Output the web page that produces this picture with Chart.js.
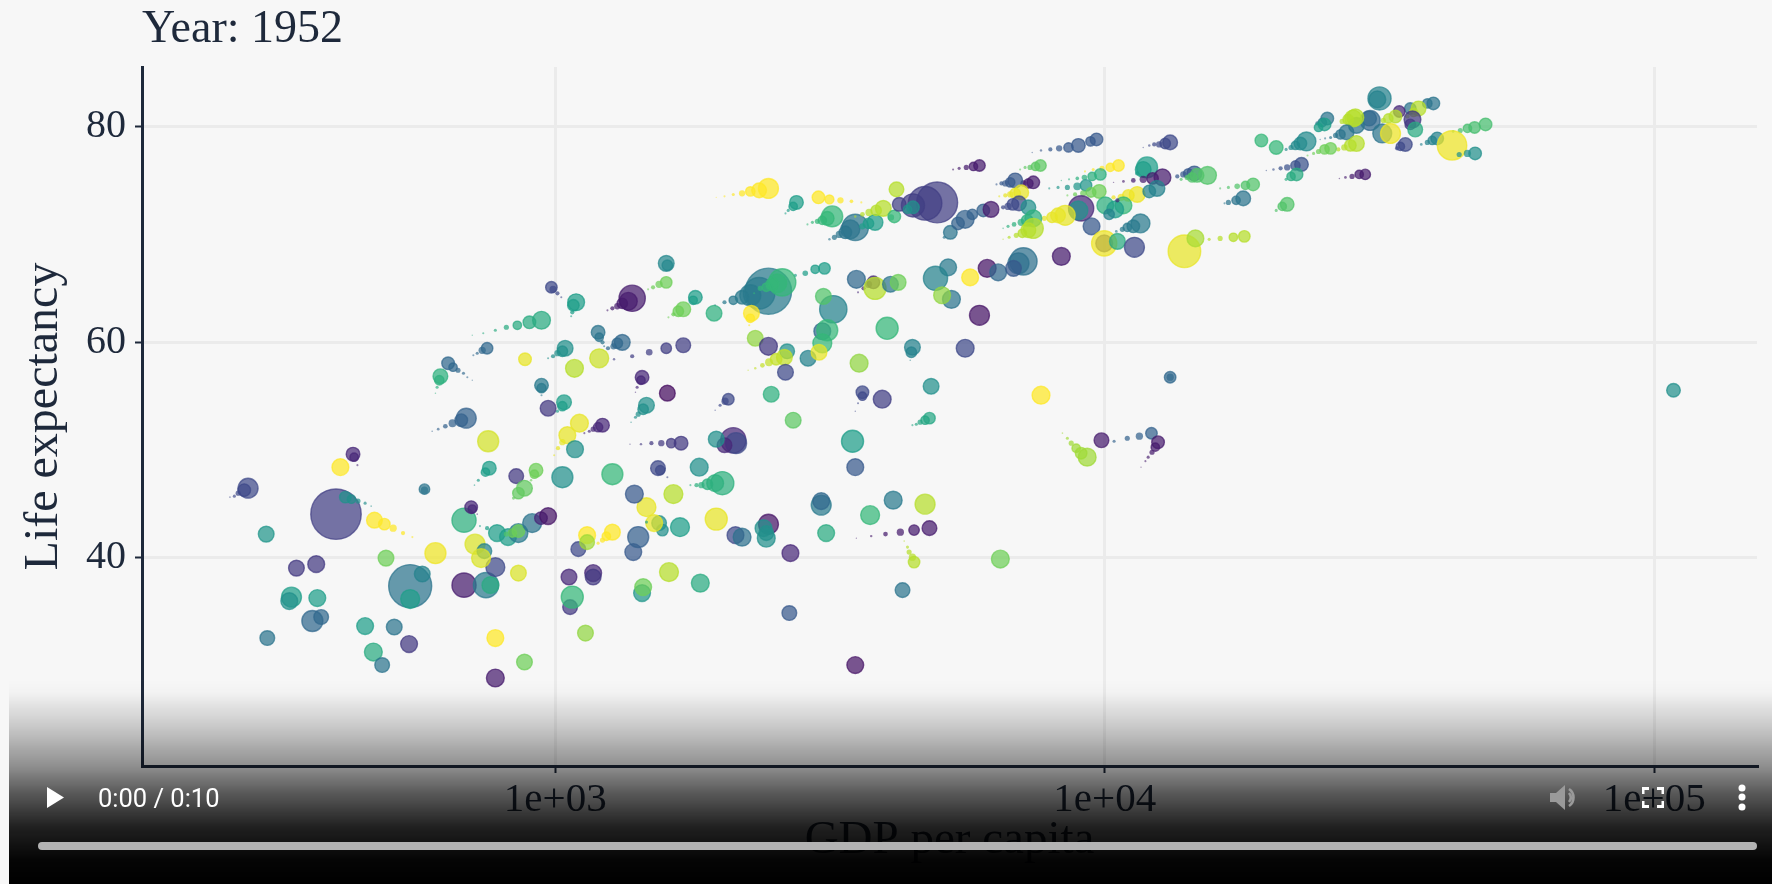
<!DOCTYPE html>
<html><head><meta charset="utf-8">
<script src="https://cdn.jsdelivr.net/npm/chart.js@4"></script>
<style>
html,body{margin:0;padding:0;background:#f7f7f7;width:1772px;height:884px;overflow:hidden}
canvas{position:absolute;left:0;top:0}
#shade{position:absolute;left:9px;right:0;top:680px;bottom:0;background:linear-gradient(to bottom,rgba(0,0,0,0) 0px,rgba(0,0,0,.02) 13px,rgba(0,0,0,.19) 47px,rgba(0,0,0,.42) 86px,rgba(0,0,0,.64) 113px,rgba(0,0,0,.87) 147px,rgba(0,0,0,.98) 180px,#000 204px)}
#play{position:absolute;left:47px;top:787px;width:17px;height:21px;background:#fff;clip-path:polygon(0 0,100% 50%,0 100%)}
#time{position:absolute;left:98px;top:783px;font:25.5px Roboto,sans-serif;color:#fff;line-height:30px;white-space:nowrap}
#bar{position:absolute;left:38px;top:842px;width:1719px;height:8px;border-radius:4px;background:#b3b3b3}
svg.ctl{position:absolute}
</style></head><body>
<canvas id="c" width="1772" height="884"></canvas>
<div id="shade"></div>
<div id="play"></div>
<div id="time">0:00 / 0:10</div>
<div id="bar"></div>
<svg class="ctl" style="left:1550px;top:784px" width="28" height="27" viewBox="0 0 28 27"><path d="M0 9h6l9-8v25l-9-8H0z" fill="#9a9a9a"/><path d="M19 5c6 4 6 13 0 17M19 9c2.500 3 2.500 6 0 9" stroke="#9a9a9a" stroke-width="2.600" fill="none"/></svg>
<svg class="ctl" style="left:1642px;top:787px" width="22" height="21" viewBox="0 0 22 21"><path d="M1 7V1.500h6M15 1.500h6V7M21 14v5.500h-6M7 19.500H1V14" stroke="#fff" stroke-width="3" fill="none"/></svg>
<svg class="ctl" style="left:1736px;top:782px" width="12" height="30" viewBox="0 0 12 30"><circle cx="6" cy="6" r="3.500" fill="#fff"/><circle cx="6" cy="15" r="3.500" fill="#fff"/><circle cx="6" cy="25" r="3.500" fill="#fff"/></svg>
<script>
const yearLabel = "Year: 1952";
const xTitle = "GDP per capita";
const yTitle = "Life expectancy";
const xTicks = [1000, 10000, 100000];
const yTicks = [40, 60, 80];

// log10 of GDP per capita, one entry per mark (head of a country's bubble or a step of its trail)
const logGdp = [
2.993,2.996,3.004,3.011,
3.038,3.033,3.031,3.029,
3.140,3.133,3.122,3.113,3.104,3.095,
3.202,3.204,
3.202,3.189,3.178,3.169,
3.255,3.251,
3.233,3.224,3.215,3.206,
2.975,2.953,2.931,2.911,2.891,2.869,2.849,
3.078,3.080,3.086,3.089,
3.122,3.113,3.106,3.096,
2.876,2.867,2.858,2.851,
3.018,3.013,3.004,2.996,2.987,
3.080,2.945,3.035,
2.805,2.814,2.823,2.833,2.840,2.849,
2.791,2.789,2.785,2.782,
3.233,3.202,3.171,3.140,3.107,
3.158,3.156,3.149,3.146,
3.204,
2.975,2.975,2.975,
2.987,
3.016,3.013,3.004,
3.166,3.160,3.151,3.146,3.138,
3.086,3.078,3.069,3.062,3.053,
3.044,3.022,3.013,3.005,2.998,
2.838,2.829,2.813,2.800,2.787,2.776,
2.878,
2.441,2.434,2.423,2.416,2.408,
2.632,2.634,2.640,
2.609,
2.762,2.762,
2.601,
2.618,2.629,2.641,2.654,2.665,
2.671,2.689,2.705,2.723,2.740,
2.782,2.474,2.692,2.529,2.565,2.736,2.758,2.736,2.834,2.874,2.882,2.891,2.933,
2.520,2.516,2.567,2.558,2.574,2.476,2.654,2.707,2.734,2.669,2.685,2.891,2.944,2.891,3.055,
3.069,3.069,3.025,3.027,3.031,3.142,3.151,3.042,3.058,3.058,
3.104,3.093,3.086,3.078,
3.166,3.189,3.195,3.180,3.166,3.227,3.207,3.158,3.160,3.264,3.426,3.293,3.328,3.340,
3.388,3.379,3.384,3.384,3.428,3.215,3.144,3.104,3.013,2.929,
2.965,2.962,2.956,
2.944,2.933,2.924,
2.880,2.873,2.860,2.853,
2.834,
2.847,2.849,2.858,
2.863,2.876,2.894,
2.914,2.933,2.933,2.922,2.911,2.958,2.974,2.987,2.854,2.871,2.865,3.262,
3.187,3.191,3.204,
3.304,3.291,3.277,3.266,3.257,3.246,
3.324,3.329,3.308,3.293,3.393,3.433,
3.315,3.309,3.300,3.291,
3.229,3.211,3.193,3.175,3.156,3.136,
3.036,
3.490,3.473,3.455,3.437,
3.388,3.371,3.355,3.340,3.324,3.308,3.291,
3.413,3.404,3.395,3.384,3.373,3.362,
3.548,
3.579,3.570,3.561,3.551,
3.582,3.610,3.624,3.715,3.692,3.755,3.786,3.806,3.772,3.721,3.704,3.604,3.506,3.488,3.486,3.495,3.486,3.460,3.480,3.364,3.388,3.422,
3.417,3.402,3.389,3.377,3.364,3.351,
3.419,3.289,
3.357,3.355,3.353,
3.650,3.648,3.646,
3.746,3.553,3.684,
3.559,3.559,3.551,3.546,
3.595,
3.681,3.673,3.664,3.657,3.650,
3.541,3.546,3.484,3.484,3.615,3.573,3.673,3.493,
3.681,3.653,3.628,3.601,3.575,3.548,
3.653,3.650,3.644,3.641,3.635,
3.810,3.632,3.546,3.884,
4.119,4.119,
3.968,3.957,3.948,3.939,3.932,3.923,
3.994,
4.085,4.063,4.041,4.017,
4.097,4.092,4.086,4.079,4.074,4.066,
3.388,3.371,3.355,3.340,3.324,3.308,3.293,
3.439,3.433,3.424,3.419,
3.479,3.499,3.519,3.539,3.557,
3.504,3.495,3.486,3.477,3.468,3.459,
3.621,
3.546,3.537,3.528,3.517,3.508,3.499,
3.582,3.570,3.559,
3.597,3.584,3.571,3.559,3.546,
3.617,3.611,
3.695,3.673,3.651,3.626,
3.651,3.641,
3.719,3.708,
3.985,3.974,3.952,3.934,3.917,3.901,3.884,3.868,
4.119,4.110,4.099,4.090,4.081,4.070,
3.772,3.761,3.748,3.735,3.724,
3.883,3.874,3.864,3.855,3.846,
4.025,4.010,3.995,3.979,3.964,
4.077,4.070,4.059,
4.105,4.087,4.070,4.052,4.034,4.016,
4.163,4.152,4.143,4.132,
4.187,4.168,4.159,4.150,4.139,
3.870,3.861,3.852,
3.837,3.828,3.819,3.812,3.803,
3.992,3.977,3.963,3.950,3.935,3.921,
3.966,3.950,3.932,3.915,3.899,
3.990,3.975,3.961,3.946,3.932,
3.848,3.837,3.828,3.819,3.808,
3.844,3.833,3.824,3.815,
3.861,
3.746,3.733,3.759,3.779,
3.793,3.957,3.952,
3.928,3.915,3.904,3.890,
4.059,4.043,4.030,4.016,
4.095,4.081,
4.001,4.034,4.019,4.008,4.023,
3.870,3.859,3.848,3.835,3.824,3.815,
3.870,3.861,3.850,3.839,3.826,3.815,
4.065,4.052,4.041,4.032,4.021,
3.976,3.999,3.999,4.023,4.054,4.145,4.165,3.921,
3.852,3.843,3.834,
4.500,4.496,
4.598,4.587,4.556,
4.571,4.562,4.551,
4.536,
4.483,4.481,
4.458,
4.456,4.452,4.443,4.432,
4.529,4.516,4.507,
4.405,4.396,4.387,
4.400,4.389,
4.560,4.556,
4.565,4.505,4.520,
4.547,4.538,4.532,
4.440,4.429,4.420,4.411,4.401,4.392,
4.367,4.356,4.347,4.339,4.330,
4.285,4.312,
4.458,4.447,4.436,4.425,
4.411,4.400,4.389,4.380,4.369,
4.693,4.673,4.660,4.647,4.634,
4.605,4.596,4.587,4.576,
4.632,
4.674,4.660,4.645,
4.358,4.347,4.332,4.320,4.307,4.294,
4.349,4.339,4.330,
4.474,4.463,4.450,4.438,4.427,
4.270,4.256,4.241,4.225,4.210,
4.252,4.239,4.225,4.218,
4.332,4.323,4.312,
4.254,4.234,4.210,4.190,
5.035
];

// life expectancy in years
const lifeExp = [
65.10,64.91,64.54,64.17,
63.71,63.43,62.78,62.41,
64.08,63.80,63.61,63.34,63.15,62.96,
67.32,67.14,
65.56,65.38,65.10,64.91,
64.17,63.89,
63.06,62.87,62.59,62.31,
62.04,61.85,61.57,61.39,61.11,60.83,60.65,
60.92,60.46,59.99,59.62,
59.99,59.90,59.62,59.44,
59.44,59.25,58.98,58.79,
59.44,59.16,58.98,58.70,58.51,
58.51,58.42,57.58,
58.05,57.68,57.40,57.12,56.75,56.47,
56.84,56.47,55.82,55.27,
59.72,59.44,59.07,58.70,58.42,
56.75,56.47,55.82,55.36,
55.27,
56.01,55.73,55.08,
53.87,
54.43,54.06,53.60,
54.15,53.78,53.32,53.04,52.57,
52.30,52.11,51.93,51.74,51.56,
52.48,51.37,50.72,50.16,49.51,
52.95,52.76,52.48,52.20,51.93,51.74,
50.81,
46.45,46.27,45.99,45.71,45.62,
49.61,49.33,48.59,
48.40,
46.36,46.27,
44.04,
45.62,45.43,45.25,45.06,44.78,
43.48,43.11,42.74,42.28,41.91,
40.42,42.19,39.96,39.03,39.40,37.36,38.48,36.16,37.45,37.45,37.45,39.12,38.57,
36.34,35.97,36.25,34.12,34.49,32.54,33.65,33.56,31.98,31.24,30.03,32.54,30.31,28.83,33.00,
38.57,38.20,38.20,35.41,36.34,40.52,41.91,40.79,42.09,41.44,
42.37,41.99,41.63,41.35,
44.69,43.21,42.56,43.21,43.30,42.83,38.66,36.71,37.27,37.64,34.86,43.58,42.09,41.91,
43.11,42.74,41.81,42.28,40.42,45.90,45.90,47.75,47.47,47.57,
48.12,47.75,47.19,
46.45,45.99,45.53,
48.31,47.94,47.19,46.73,
43.48,
44.69,44.51,44.04,
42.93,42.74,42.28,
41.91,42.28,42.47,42.28,42.19,43.21,43.67,43.86,41.26,40.61,39.96,48.40,
48.31,48.12,47.47,
46.92,46.92,46.82,46.73,46.73,46.73,
50.90,50.63,50.44,51.00,55.17,52.76,
54.71,54.52,54.15,53.69,
50.63,50.63,50.63,50.63,50.54,50.54,
50.07,
66.86,66.77,66.40,66.21,
64.73,64.54,64.36,64.17,63.89,63.71,63.43,
65.56,65.47,65.38,65.10,65.00,64.54,
65.84,
65.56,65.38,65.00,64.63,
65.00,65.38,65.56,66.95,65.93,66.02,66.86,66.49,62.50,63.98,64.36,61.29,63.06,64.26,61.02,61.11,59.90,58.51,59.07,60.37,59.62,59.16,
58.60,58.42,58.14,57.86,57.58,57.40,
57.21,62.69,
62.69,62.22,61.57,
59.53,59.07,58.33,
59.44,58.05,55.91,
55.36,54.99,54.34,53.59,
54.71,
52.95,52.76,52.58,52.39,52.30,
50.81,48.40,44.88,45.25,45.34,43.95,44.97,42.28,
42.74,42.56,42.37,42.19,42.00,41.81,
39.59,40.05,40.52,40.98,41.54,
39.87,36.99,30.03,55.08,
56.75,56.75,
49.33,49.70,50.16,50.63,51.09,51.56,
50.90,
51.55,51.28,51.09,50.81,
50.72,50.26,49.79,49.33,48.96,48.40,
74.28,74.10,74.00,73.82,73.72,73.54,73.45,
72.98,72.61,72.24,71.96,
73.45,73.26,73.17,73.08,72.98,
71.68,71.50,71.31,71.22,71.13,70.94,
74.19,
70.66,70.48,70.20,70.01,69.74,69.55,
71.13,71.03,70.76,
72.43,72.24,72.05,71.87,71.68,
71.68,71.59,
72.98,72.89,72.70,72.80,
72.52,72.33,
70.20,69.74,
78.83,78.64,78.27,78.08,78.00,77.90,77.81,77.62,
78.55,78.45,78.36,78.36,78.27,78.08,
76.41,76.32,76.23,76.14,76.04,
76.41,76.32,76.23,76.23,76.04,
76.41,76.23,76.14,76.04,75.86,
76.23,76.04,75.67,
75.30,75.21,75.12,75.02,74.93,74.84,
75.67,75.67,75.58,75.39,
75.49,75.49,75.30,75.30,75.12,
74.84,74.74,74.74,
75.02,74.84,74.74,74.74,74.65,
75.58,75.39,75.30,75.21,75.12,75.02,
74.56,74.47,74.37,74.37,74.28,
74.00,73.91,73.82,73.72,73.63,
73.91,73.82,73.72,73.63,73.54,
72.89,72.80,72.61,72.52,
72.52,
71.41,71.03,71.87,72.24,
72.33,72.43,72.24,
71.78,71.78,71.59,71.50,
73.72,73.63,73.45,73.45,
74.28,74.00,
72.70,72.70,72.33,71.87,73.17,
71.50,71.31,71.13,70.94,70.76,70.57,
70.57,70.39,70.11,69.92,69.74,69.55,
71.03,70.76,70.66,70.48,70.29,
70.76,69.18,69.18,69.36,68.81,68.44,69.64,67.97,
67.51,67.32,66.86,
82.63,82.54,
82.17,82.17,81.70,
81.70,81.33,80.96,
81.42,
80.59,80.77,
80.13,
80.87,80.77,80.68,80.50,
80.96,80.77,80.59,
80.77,80.40,80.31,
80.22,79.94,
80.68,80.22,
79.75,79.38,79.38,
78.36,78.18,78.00,
79.48,79.29,79.20,79.01,78.92,78.83,
78.64,78.45,78.27,78.08,77.90,
78.73,78.08,
78.45,78.27,78.08,77.90,
78.00,77.90,77.71,77.53,77.34,
80.22,79.94,79.85,79.66,79.57,
78.92,78.73,78.55,78.36,
78.27,
77.53,77.53,77.43,
76.51,76.41,76.23,76.14,76.04,75.95,
75.58,75.39,75.12,
75.58,75.58,75.39,75.30,75.21,
74.65,74.56,74.47,74.37,74.28,
73.35,73.17,72.98,72.89,
72.80,72.61,72.24,
69.83,69.74,69.64,69.55,
55.54
];

// relative population of each mark (the trail shrinks away behind the head)
const population = [
30,12,4,1,
64,30,4,1,
156,72,25,9,4,1,
56,25,
30,12,4,1,
42,16,
49,25,4,1,
72,36,16,6,2.2,1,0.4,
42,16,4,1,
56,25,9,4,
30,12,2.2,1,
56,25,9,4,1,
81,36,72,
36,16,6,2.2,1,0.4,
49,20,2.2,0.5,
49,25,10,4,1.4,
42,16,2.2,0.5,
56,
42,20,1,
56,
49,20,2.2,
56,25,6,2.2,0.6,
42,20,6,2.2,1,
72,64,9,4,1,
90,36,14,5,1.7,0.6,
100,
90,36,6,2.2,0.6,
42,16,1,
64,
25,12,
576,
30,16,6,2.2,0.6,
56,30,12,4,1,
100,56,56,56,64,420,56,81,132,144,64,81,56,
90,64,64,100,49,49,64,56,64,72,49,64,56,72,56,
64,56,56,49,110,64,100,49,64,49,
56,16,6,2.2,
81,49,30,64,2.2,81,81,64,64,72,49,110,64,72,
90,64,72,49,64,81,72,100,100,49,
42,16,1.4,
56,30,2.2,
42,16,2.2,0.6,
132,
36,16,0.6,
1,4,64,
64,81,36,16,6,81,36,64,90,49,81,72,
49,20,1,
121,64,25,9,4,1,
144,100,49,56,56,56,
30,12,2.2,0.5,
42,20,9,4,1.4,0.5,
64,
30,16,7,2.2,
484,225,100,42,16,4,1,
169,81,36,16,6,1,
72,
36,12,4,1,
110,56,56,64,132,64,72,64,90,72,64,110,169,56,64,100,81,56,56,56,72,49,
56,30,14,5,1.4,0.5,
56,56,
56,16,1,
56,25,0.6,
72,72,56,
36,16,1,0.5,
72,
30,16,6,2.2,1,
110,64,90,64,72,81,90,64,
49,25,12,5,1.4,0.4,
30,12,6,2.2,0.6,
72,49,64,72,
30,12,
72,30,16,6,2.2,0.6,
49,
30,12,6,2.2,
36,16,6,2.2,1,0.4,
90,49,20,9,2.2,1,0.4,
42,16,2.2,1,
36,18,9,3,1,
100,42,16,6,2.2,1,
49,
156,81,36,12,6,1.4,
56,25,9,
56,25,12,5,1.4,
36,9,
380,256,121,42,
36,16,
42,2.2,
36,20,42,20,9,4,1.4,0.5,
49,25,9,4,1.4,0.5,
30,16,6,2.2,1,
30,16,6,2.2,1,
30,16,6,2.2,1,
100,56,4,
64,30,12,5,1.7,0.5,
49,20,9,4,
72,42,20,6,2.2,
36,20,9,
49,20,9,4,1,
30,16,7,3,1,0.5,
30,14,6,2.2,1,
42,22,9,4,1,
49,25,9,4,1,
49,30,12,4,
49,
72,36,25,36,
56,144,81,
90,49,25,6,
56,30,12,4,
56,36,
64,64,64,25,4,
64,30,12,5,2.2,0.6,
90,49,16,6,2.2,0.5,
81,36,16,6,1.7,
64,64,144,56,90,240,64,72,
169,100,56,
121,64,
36,20,30,
49,16,4,
30,
90,49,
56,
64,64,25,6,
36,20,6,
36,16,4,
36,16,
64,25,
49,81,90,
42,16,4,
49,20,6,2.2,1,0.5,
81,36,16,6,2.2,
36,42,
56,30,9,4,
30,20,6,2.2,1,
36,30,16,6,1.7,
36,16,6,1.7,
196,
36,12,6,
42,20,9,4,1.4,0.5,
36,16,2.2,
25,16,6,1.7,0.5,
36,16,7,2.2,1,
49,16,6,1,
42,16,2.2,
30,16,6,2.2,
42
];

// position of the country's colour on the viridis ramp, 0 (purple) to 9 (yellow)
const hue = [
2,2,2,2,
5,5,5,5,
0.7,0.7,0.7,0.7,0.7,0.7,
4.2,4.2,
7,7,7,7,
5,5,
7,7,7,7,
5.5,5.5,5.5,5.5,5.5,5.5,5.5,
3.5,3.5,3.5,3.5,
3,3,3,3,
3,3,3,3,
4.5,4.5,4.5,4.5,4.5,
8.3,8.7,8,
3,3,3,3,3,3,
5.7,5.7,5.7,5.7,
1.7,1.7,1.7,1.7,1.7,
1,1,1,1,
0.3,
3.7,3.7,3.7,
1.5,
5,5,5,
4.5,4.5,4.5,4.5,4.5,
1,1,1,1,1,
8.7,8.7,8.7,8.7,8.7,
2.8,2.8,2.8,2.8,2.8,2.8,
8.4,
2,2,2,2,2,
1,1,1,
9,
3.5,3.5,
1.7,
4.5,4.5,4.5,4.5,4.5,
9,9,9,9,9,
8.8,4.7,7,1.5,1.5,3.5,4,5,0.7,3.7,5.5,2,8.5,
5,4.5,5,3,3,3.5,5,3.5,1.5,5.5,3.5,9,7,0.7,7.5,
1,1.5,1,1.5,6,2.5,2.7,2,9,7.7,
9,9,9,9,
8.7,4.5,4.5,8.7,5,5,8,4.7,7,5.5,2.5,8.7,2,3.3,
0.5,4.5,4.5,4.5,1,8,2.5,6,4.5,1.5,
7,7,7,
6.8,6.8,6.8,
5,5,5,5,
5.7,
1,1,1,
5,5,5,
5,3.7,7,7,6.5,3.5,1,0.5,8.5,4,8.5,4.5,
2,2,2,
5.7,5.7,5.7,5.7,5.7,5.7,
1,2,1,4.5,5.7,6.7,
2,2,2,2,
1.5,1.5,1.5,1.5,1.5,1.5,
4.5,
5,5,5,5,
3.7,3.7,3.7,3.7,3.7,3.7,3.7,
6,6,6,6,6,6,
3,
1,1,1,1,
8,3.5,7,3.7,4,9,0.5,3,0.5,3.5,7.5,6,4,6.5,3,6,6,4,8.7,7.5,1.5,4.5,
8.2,8.2,8.2,8.2,8.2,8.2,
2,5.7,
9,9,9,
4,4,4,
2,7.5,4.5,
2,2,2,2,
1.7,
5.3,5.3,5.3,5.3,5.3,
5,2.5,3.7,3,3.7,6,8,5.5,
0.7,0.7,0.7,0.7,0.7,0.7,
8,8,8,8,8,
7,3.5,0.5,9,
3,3,
7.7,7.7,7.7,7.7,7.7,7.7,
0.7,
2.8,2.8,2.8,2.8,
0.7,0.7,0.7,0.7,0.7,0.7,
9,9,9,9,9,9,9,
5,5,5,5,
9,9,9,9,9,
6,6,6,6,6,6,
8,
3.5,3.5,3.5,3.5,3.5,3.5,
5,5,5,
8,8,8,8,8,
6,6,
1.7,1.7,1.7,1.7,
4.5,4.5,
3.5,3.5,
2.5,2.5,2.5,2.5,2.5,2.5,2.5,2.5,
2,2,2,2,2,2,
0.7,0.7,0.7,0.7,0.7,
6.7,6.7,6.7,6.7,6.7,
9,9,9,9,9,
5,5,5,
0.7,0.7,0.7,0.7,0.7,0.7,
2.5,2.5,2.5,2.5,
6.5,6.5,6.5,6.5,6.5,
0.7,0.7,0.7,
2.5,2.5,2.5,2.5,2.5,
5.7,5.7,5.7,5.7,5.7,5.7,
4.7,4.7,4.7,4.7,4.7,
7,7,7,7,7,
8.7,8.7,8.7,8.7,8.7,
2,2,2,2,
4.5,
2.8,2.8,2.8,2.8,
0.7,1,4.5,
8.7,8.7,8.7,8.7,
8.8,8.8,8.8,8.8,
4,4,
5.7,6,5,4,1,
5.7,5.7,5.7,5.7,5.7,5.7,
8,8,8,8,8,8,
3.7,3.7,3.7,3.7,3.7,
2.5,1.5,8.8,5.5,2,8.7,7.8,0.7,
3.3,3.3,2.5,
4,4,
3.5,3.5,3.5,
8,8,8,
1,
3,3,
3.5,
8,8,8,8,
8,8,8,
3.5,3.5,3.5,
5,5,
1.5,1.5,
5.5,3.5,8.8,
2,2,2,
3.5,3.5,3.5,3.5,3.5,3.5,
4.3,4.3,4.3,4.3,4.3,
6,6,
8,8,8,8,
7,7,7,7,7,
6.3,6.3,6.3,6.3,6.3,
4,4,4,4,
8.8,
4.5,4.5,4.5,
2.3,2.3,2.3,2.3,2.3,2.3,
5.5,5.5,5.5,
0.7,0.7,0.7,0.7,0.7,
6.5,6.5,6.5,6.5,6.5,
3.5,3.5,3.5,3.5,
6.5,6.5,6.5,
8,8,8,8,
4.5
];

const viridis = [[68,1,84],[72,40,120],[62,73,137],[49,104,142],[38,130,142],[31,158,137],[53,183,121],[110,206,88],[181,222,43],[253,231,37]];
function rgba(h, a) {
  const i = Math.min(8, Math.floor(h)), t = h - i;
  const c = viridis[i].map((v, k) => Math.round(v + (viridis[i + 1][k] - v) * t));
  return `rgba(${c[0]},${c[1]},${c[2]},${a})`;
}
const n = Math.min(logGdp.length, lifeExp.length, population.length, hue.length);
const points = [];
for (let i = 0; i < n; i++) points.push({x: Math.pow(10, logGdp[i]), y: lifeExp[i], r: Math.sqrt(population[i]) * 1.05});
const alphaOf = r => Math.min(0.72, 0.35 + r * 0.2);
const ink = '#1e293b';
const serif = 'Liberation Serif';

new Chart(document.getElementById('c'), {
  type: 'bubble',
  data: {datasets: [{
    data: points,
    backgroundColor: ctx => rgba(hue[ctx.dataIndex], alphaOf(points[ctx.dataIndex].r)),
    borderColor: ctx => rgba(hue[ctx.dataIndex], alphaOf(points[ctx.dataIndex].r)),
    borderWidth: ctx => points[ctx.dataIndex].r > 4 ? 1.4 : 0
  }]},
  options: {
    responsive: false, animation: false, events: [],
    layout: {autoPadding: false, padding: {top: 7, right: 15, left: 0, bottom: 0}},
    plugins: {
      legend: {display: false}, tooltip: {enabled: false},
      title: {display: true, text: yearLabel, align: 'start', fullSize: false, color: ink,
        font: {family: serif, size: 46, weight: 'normal', lineHeight: 1.0}, padding: {top: 0, bottom: 14}}
    },
    scales: {
      x: {
        type: 'logarithmic', min: 177, max: 153800,
        afterFit: s => { s.height = 118; s.paddingLeft = 0; s.paddingRight = 0; },
        afterBuildTicks: s => { s.ticks = xTicks.map(v => ({value: v})); },
        grid: {color: '#ebebeb', lineWidth: 3, tickColor: ink, tickLength: 7, tickWidth: 2},
        border: {display: true, color: ink, width: 3},
        ticks: {color: ink, padding: 3, maxRotation: 0, autoSkip: false, font: {family: serif, size: 41},
          callback: v => '1e+0' + Math.round(Math.log10(v))},
        title: {display: true, text: xTitle, color: ink, font: {family: serif, size: 47}, padding: {top: 0, bottom: 15}}
      },
      y: {
        type: 'linear', min: 20.66, max: 85.55,
        afterFit: s => { s.width = 142; s.paddingTop = 0; s.paddingBottom = 0; },
        afterBuildTicks: s => { s.ticks = yTicks.map(v => ({value: v})); },
        grid: {color: '#ebebeb', lineWidth: 3, tickColor: ink, tickLength: 7, tickWidth: 2},
        border: {display: true, color: ink, width: 3},
        ticks: {color: ink, padding: 9, autoSkip: false, font: {family: serif, size: 40}},
        title: {display: true, text: yTitle, color: ink, font: {family: serif, size: 48}, padding: {top: 16, bottom: 0}}
      }
    }
  }
});
</script>
</body></html>
